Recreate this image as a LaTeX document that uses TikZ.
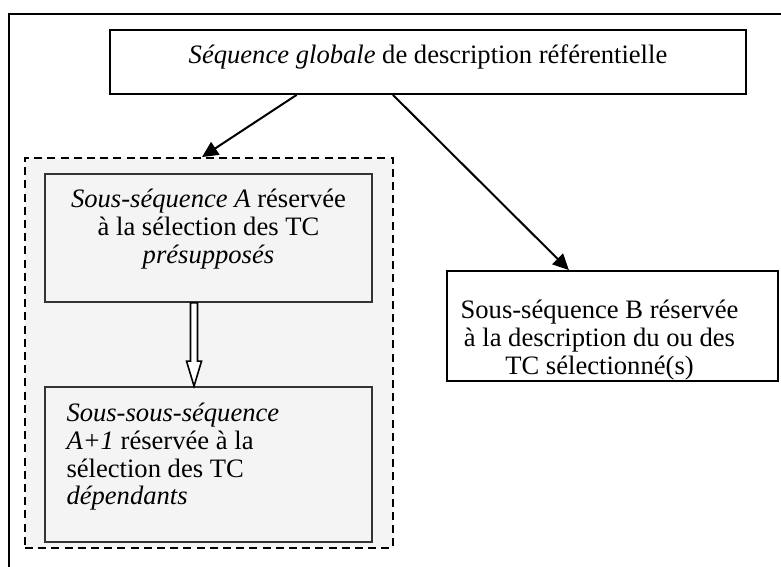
\documentclass[tikz,border=0pt]{standalone}
\usepackage{fontspec}
\setmainfont{Liberation Serif}
\usetikzlibrary{positioning,calc,arrows.meta}
\tikzset{
  boite/.style={draw,line width=0.9pt,rectangle,inner sep=0pt},
  grise/.style={boite,draw=black!80,fill=black!4.5},
  texte/.style={inner sep=0pt,font=\fontsize{13.3}{13.8}\selectfont},
  fleche/.style={line width=1pt,-{Triangle[length=8pt,width=7.5pt]}}
}
\begin{document}
\begin{tikzpicture}[x=0.5pt,y=-0.5pt,line join=miter]
  \useasboundingbox (0,0) rectangle (781,567);
  \draw[line width=0.9pt] (9,567) -- (9,14) -- (781,14);
  \node[boite,minimum width=318pt,minimum height=32pt,texte,text depth=8pt] (globale) at (428,62)
    {\textit{Séquence globale} de description référentielle};
  \node[grise,draw=black,dash pattern=on 4pt off 2.6pt,minimum width=184pt,minimum height=195pt] (groupeA) at (209,353) {};
  \node[grise,minimum width=163.5pt,minimum height=64pt] (sousA) at (208.5,238) {};
  \node[grise,minimum width=163.5pt,minimum height=77.5pt] (sousAun) at (208.5,464.5) {};
  \node[boite,minimum width=165.5pt,minimum height=55pt] (sousB) at (612.5,326) {};
  \node[texte,align=center,below=8pt of sousA.north] (txtA)
    {\textit{Sous-séquence A} réservée\\à la sélection des TC\\\textit{présupposés}};
  \node[texte,align=left,anchor=north west] (txtAun) at ($(sousAun.north west)+(22,17)$)
    {\textit{Sous-sous-séquence}\\\textit{A+1} réservée à la\\sélection des TC\\\textit{dépendants}};
  \node[texte,align=center,anchor=north] (txtB) at ($(sousB.north)+(-13,30)$)
    {Sous-séquence B réservée\\à la description du ou des\\TC sélectionné(s)};
  \draw[fleche] ($(globale.south west)!0.294!(globale.south east)$)
    -- ($(groupeA.north west)!0.481!(groupeA.north east)$);
  \draw[fleche] ($(globale.south west)!0.445!(globale.south east)$)
    -- ($(sousB.north west)!0.369!(sousB.north east)$);
  % flèche creuse entre les deux sous-séquences
  \coordinate (h1) at ($(sousA.south west)!0.456!(sousA.south east)$);
  \coordinate (h2) at (h1 |- sousAun.north);
  \draw[line width=0.8pt,fill=white] ($(h1)+(-3.5,0)$) -- ($(h2)+(-3.5,-25)$) -- ($(h2)+(-7.5,-25)$)
    -- (h2) -- ($(h2)+(7.5,-25)$) -- ($(h2)+(3.5,-25)$) -- ($(h1)+(3.5,0)$) -- cycle;
\end{tikzpicture}
\end{document}
